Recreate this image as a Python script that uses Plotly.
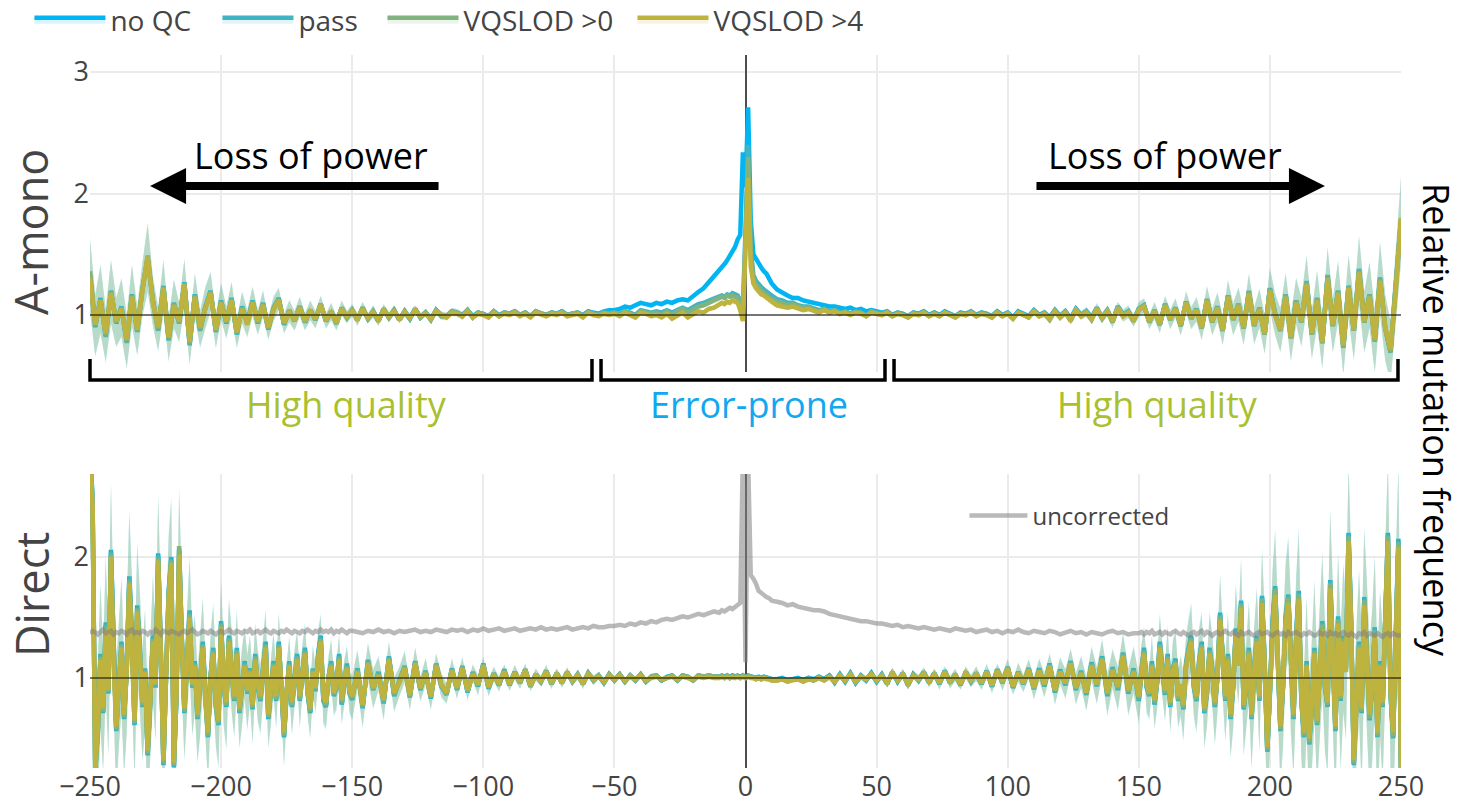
import plotly.graph_objects as go

# x positions (bp from the indel)
X_amono = list(range(-250, -11, 2)) + list(range(-10, 11)) + list(range(12, 251, 2))
X_direct = (list(range(-250, -149)) + list(range(-148, -11, 2)) + list(range(-10, 11))
            + list(range(12, 149, 2)) + list(range(150, 251)))

# ---------------- A-mono panel ----------------
amono_noqc = [
    1.32, 0.90, 1.14, 0.83, 1.20, 0.93, 1.07, 0.78, 1.17, 0.86,
    1.22, 1.46, 1.12, 0.88, 1.24, 0.80, 1.10, 0.93, 1.27, 0.76,
    1.17, 0.88, 1.07, 1.20, 0.86, 1.12, 0.93, 1.14, 0.84, 1.07,
    0.94, 1.12, 0.93, 1.10, 0.88, 1.06, 1.14, 0.92, 1.04, 0.95,
    1.07, 0.94, 1.04, 0.96, 1.09, 0.95, 1.03, 0.93, 1.06, 0.98,
    1.04, 0.96, 1.06, 0.97, 1.03, 0.95, 1.05, 0.98, 1.04, 0.96,
    1.03, 0.97, 1.05, 0.98, 1.02, 0.97, 1.04, 1.00, 0.99, 1.03,
    1.02, 1.00, 1.04, 0.99, 1.02, 1.01, 0.99, 1.03, 1.00, 1.02,
    1.01, 1.03, 1.00, 1.02, 0.99, 1.03, 1.01, 1.00, 1.02, 1.01,
    1.03, 1.00, 1.01, 1.02, 1.00, 1.03, 1.02, 1.01, 1.03, 1.04,
    1.04, 1.05, 1.07, 1.06, 1.08, 1.10, 1.09, 1.08, 1.10, 1.09,
    1.11, 1.10, 1.12, 1.13, 1.12, 1.16, 1.19, 1.22, 1.27, 1.31,
    1.36, 1.39, 1.42, 1.45, 1.49, 1.53, 1.56, 1.62, 1.66, 2.34,
    2.05, 2.71, 1.78, 1.50, 1.46, 1.42, 1.39, 1.36, 1.34, 1.30, 1.26,
    1.21, 1.18, 1.16, 1.14, 1.14, 1.12, 1.11, 1.10, 1.09, 1.08,
    1.07, 1.07, 1.06, 1.05, 1.06, 1.04, 1.05, 1.03, 1.04, 1.03,
    1.02, 1.03, 1.00, 1.02, 1.01, 0.99, 1.02, 1.01, 1.03, 1.00,
    1.02, 1.00, 1.03, 1.01, 0.99, 1.02, 1.01, 1.03, 1.00, 1.02,
    1.01, 0.99, 1.03, 1.00, 1.02, 0.98, 1.03, 1.01, 0.99, 1.04,
    1.00, 1.02, 0.98, 1.04, 0.99, 1.03, 0.97, 1.05, 1.00, 1.03,
    0.98, 1.06, 0.97, 1.04, 0.94, 1.07, 1.00, 1.03, 0.95, 1.05,
    1.08, 0.94, 1.04, 0.92, 1.09, 0.96, 1.06, 0.91, 1.11, 0.97,
    1.05, 0.89, 1.13, 0.94, 1.07, 0.87, 1.16, 0.96, 1.09, 0.89,
    1.19, 0.91, 1.06, 0.84, 1.22, 1.01, 0.87, 1.17, 0.81, 1.12,
    0.94, 1.27, 0.84, 1.14, 0.77, 1.32, 0.91, 1.20, 0.74, 1.24,
    0.87, 1.37, 0.94, 1.17, 0.79, 1.30, 0.89, 0.70, 1.22, 1.78,
]
amono_pass = [
    1.33, 0.91, 1.13, 0.82, 1.19, 0.94, 1.06, 0.77, 1.16, 0.87,
    1.21, 1.47, 1.11, 0.87, 1.23, 0.79, 1.09, 0.94, 1.26, 0.75,
    1.16, 0.87, 1.06, 1.19, 0.87, 1.11, 0.94, 1.13, 0.85, 1.06,
    0.93, 1.11, 0.94, 1.09, 0.89, 1.05, 1.13, 0.93, 1.03, 0.95,
    1.07, 0.94, 1.04, 0.96, 1.09, 0.95, 1.03, 0.93, 1.06, 0.98,
    1.04, 0.96, 1.06, 0.97, 1.03, 0.95, 1.05, 0.98, 1.04, 0.96,
    1.03, 0.97, 1.05, 0.98, 1.02, 0.96, 1.04, 0.99, 0.99, 1.03,
    1.02, 0.99, 1.04, 0.98, 1.02, 1.00, 0.99, 1.03, 0.99, 1.02,
    1.01, 1.03, 1.00, 1.02, 0.99, 1.03, 1.01, 1.00, 1.02, 1.01,
    1.03, 1.00, 1.01, 1.02, 0.99, 1.03, 1.01, 1.00, 1.02, 1.01,
    1.02, 1.01, 1.03, 1.02, 1.00, 1.04, 1.03, 1.02, 1.03, 1.02,
    1.04, 1.02, 1.04, 1.06, 1.04, 1.07, 1.09, 1.10, 1.12, 1.14,
    1.15, 1.16, 1.15, 1.17, 1.16, 1.18, 1.17, 1.16, 1.12, 1.05,
    1.70, 2.40, 1.55, 1.33, 1.28, 1.25, 1.23, 1.21, 1.19, 1.18, 1.16,
    1.13, 1.12, 1.10, 1.10, 1.08, 1.07, 1.07, 1.05, 1.04, 1.05,
    1.03, 1.04, 1.02, 1.03, 1.01, 1.03, 1.02, 1.00, 1.03, 1.02,
    1.01, 1.03, 1.00, 1.02, 1.01, 0.99, 1.02, 1.01, 1.03, 1.00,
    1.02, 1.00, 1.02, 1.01, 0.99, 1.02, 1.00, 1.03, 1.00, 1.02,
    1.01, 0.99, 1.03, 1.00, 1.02, 0.98, 1.02, 1.01, 0.99, 1.04,
    1.00, 1.02, 0.98, 1.04, 0.99, 1.03, 0.97, 1.05, 1.00, 1.03,
    0.98, 1.06, 0.98, 1.04, 0.95, 1.07, 1.00, 1.03, 0.96, 1.05,
    1.08, 0.95, 1.04, 0.92, 1.09, 0.97, 1.06, 0.91, 1.11, 0.98,
    1.05, 0.90, 1.13, 0.95, 1.07, 0.88, 1.16, 0.97, 1.09, 0.90,
    1.20, 0.91, 1.06, 0.84, 1.22, 1.01, 0.88, 1.17, 0.81, 1.12,
    0.94, 1.28, 0.84, 1.14, 0.77, 1.33, 0.91, 1.20, 0.73, 1.24,
    0.87, 1.38, 0.94, 1.17, 0.78, 1.31, 0.89, 0.69, 1.22, 1.79,
]
amono_vq0 = [
    1.36, 0.93, 1.12, 0.84, 1.19, 0.94, 1.06, 0.79, 1.16, 0.87,
    1.21, 1.49, 1.11, 0.89, 1.23, 0.81, 1.09, 0.94, 1.26, 0.77,
    1.16, 0.89, 1.06, 1.19, 0.87, 1.11, 0.94, 1.13, 0.85, 1.06,
    0.93, 1.11, 0.94, 1.09, 0.89, 1.05, 1.13, 0.93, 1.03, 0.95,
    1.07, 0.95, 1.04, 0.96, 1.09, 0.95, 1.03, 0.93, 1.06, 0.98,
    1.04, 0.96, 1.06, 0.97, 1.03, 0.95, 1.05, 0.98, 1.04, 0.96,
    1.03, 0.97, 1.05, 0.98, 1.02, 0.96, 1.04, 0.99, 0.99, 1.03,
    1.02, 0.99, 1.04, 0.98, 1.02, 1.00, 0.99, 1.03, 0.99, 1.02,
    1.01, 1.03, 1.00, 1.02, 0.99, 1.03, 1.01, 1.00, 1.02, 1.01,
    1.02, 1.00, 1.01, 1.02, 0.99, 1.02, 1.01, 1.00, 1.02, 1.01,
    1.02, 1.00, 1.03, 1.01, 0.99, 1.03, 1.02, 1.01, 1.02, 1.00,
    1.03, 1.00, 1.03, 1.05, 1.02, 1.05, 1.07, 1.08, 1.10, 1.12,
    1.13, 1.15, 1.14, 1.16, 1.15, 1.16, 1.15, 1.14, 1.09, 1.00,
    1.62, 2.30, 1.48, 1.30, 1.25, 1.22, 1.20, 1.18, 1.16, 1.15, 1.13,
    1.11, 1.10, 1.08, 1.09, 1.07, 1.06, 1.06, 1.04, 1.03, 1.05,
    1.02, 1.04, 1.01, 1.03, 1.01, 1.02, 1.02, 0.99, 1.03, 1.01,
    1.00, 1.02, 0.99, 1.01, 1.00, 0.98, 1.01, 1.00, 1.02, 0.99,
    1.01, 0.99, 1.02, 1.00, 0.98, 1.01, 1.00, 1.02, 0.99, 1.01,
    1.00, 0.98, 1.02, 0.99, 1.01, 0.97, 1.02, 1.00, 0.98, 1.03,
    0.99, 1.01, 0.96, 1.03, 0.98, 1.02, 0.95, 1.04, 0.99, 1.02,
    0.96, 1.05, 0.97, 1.03, 0.94, 1.06, 0.99, 1.02, 0.95, 1.04,
    1.07, 0.94, 1.03, 0.92, 1.08, 0.96, 1.05, 0.91, 1.10, 0.97,
    1.04, 0.89, 1.12, 0.94, 1.06, 0.87, 1.15, 0.96, 1.08, 0.89,
    1.18, 0.91, 1.05, 0.84, 1.21, 1.00, 0.87, 1.16, 0.81, 1.11,
    0.94, 1.26, 0.84, 1.13, 0.77, 1.31, 0.91, 1.19, 0.74, 1.23,
    0.87, 1.36, 0.94, 1.16, 0.79, 1.29, 0.89, 0.70, 1.21, 1.79,
]
amono_vq4 = [
    1.30, 0.92, 1.12, 0.85, 1.18, 0.95, 1.05, 0.80, 1.15, 0.88,
    1.20, 1.48, 1.10, 0.90, 1.22, 0.82, 1.08, 0.95, 1.25, 0.78,
    1.15, 0.90, 1.05, 1.18, 0.88, 1.10, 0.95, 1.12, 0.86, 1.05,
    0.92, 1.10, 0.95, 1.08, 0.90, 1.04, 1.12, 0.94, 1.02, 0.96,
    1.06, 0.95, 1.03, 0.97, 1.08, 0.96, 1.02, 0.94, 1.05, 0.99,
    1.03, 0.97, 1.05, 0.98, 1.02, 0.96, 1.04, 0.99, 1.03, 0.97,
    1.02, 0.98, 1.04, 0.99, 1.01, 0.97, 1.03, 1.00, 0.98, 1.02,
    1.01, 0.99, 1.03, 0.98, 1.01, 1.00, 0.98, 1.02, 0.99, 1.01,
    1.00, 1.02, 0.99, 1.01, 0.98, 1.02, 1.00, 0.99, 1.01, 1.00,
    1.02, 0.99, 1.00, 1.01, 0.98, 1.02, 1.00, 0.99, 1.01, 1.00,
    1.01, 0.99, 1.02, 1.00, 0.98, 1.02, 1.01, 0.99, 1.00, 0.98,
    1.01, 0.97, 1.00, 1.02, 0.98, 1.01, 1.03, 1.02, 1.05, 1.06,
    1.08, 1.10, 1.09, 1.11, 1.10, 1.12, 1.11, 1.10, 1.04, 0.95,
    1.55, 2.13, 1.40, 1.26, 1.22, 1.19, 1.17, 1.16, 1.14, 1.13, 1.11,
    1.08, 1.07, 1.06, 1.07, 1.05, 1.04, 1.05, 1.03, 1.02, 1.04,
    1.02, 1.03, 1.01, 1.02, 1.00, 1.02, 1.01, 0.99, 1.02, 1.01,
    1.00, 1.02, 0.99, 1.01, 1.00, 0.98, 1.01, 1.00, 1.02, 0.99,
    1.01, 0.99, 1.02, 1.00, 0.98, 1.01, 1.00, 1.02, 0.99, 1.01,
    1.00, 0.98, 1.02, 0.99, 1.01, 0.97, 1.02, 1.00, 0.98, 1.03,
    0.99, 1.01, 0.97, 1.03, 0.98, 1.02, 0.96, 1.04, 0.99, 1.02,
    0.97, 1.05, 0.98, 1.03, 0.95, 1.06, 0.99, 1.02, 0.96, 1.04,
    1.07, 0.95, 1.03, 0.93, 1.08, 0.97, 1.05, 0.92, 1.10, 0.98,
    1.04, 0.90, 1.12, 0.95, 1.06, 0.88, 1.15, 0.97, 1.08, 0.90,
    1.18, 0.92, 1.05, 0.85, 1.20, 1.00, 0.88, 1.15, 0.82, 1.10,
    0.95, 1.25, 0.85, 1.12, 0.78, 1.30, 0.92, 1.18, 0.75, 1.22,
    0.88, 1.35, 0.95, 1.15, 0.80, 1.28, 0.90, 0.72, 1.20, 1.80,
]
amono_err = [
    0.30, 0.25, 0.28, 0.22, 0.26, 0.20, 0.24, 0.22, 0.25, 0.20,
    0.22, 0.28, 0.20, 0.18, 0.22, 0.18, 0.20, 0.16, 0.20, 0.17,
    0.18, 0.15, 0.17, 0.16, 0.14, 0.15, 0.13, 0.14, 0.12, 0.13,
    0.11, 0.12, 0.10, 0.11, 0.09, 0.10, 0.09, 0.08, 0.09, 0.08,
    0.08, 0.07, 0.08, 0.07, 0.07, 0.06, 0.07, 0.06, 0.06, 0.05,
    0.05, 0.05, 0.05, 0.04, 0.05, 0.04, 0.04, 0.04, 0.04, 0.03,
    0.04, 0.03, 0.03, 0.03, 0.03, 0.03, 0.03, 0.03, 0.03, 0.03,
    0.03, 0.03, 0.02, 0.03, 0.02, 0.02, 0.02, 0.02, 0.02, 0.02,
    0.02, 0.02, 0.02, 0.02, 0.02, 0.02, 0.02, 0.02, 0.02, 0.02,
    0.02, 0.02, 0.02, 0.02, 0.02, 0.02, 0.02, 0.02, 0.02, 0.02,
    0.02, 0.02, 0.02, 0.02, 0.02, 0.02, 0.02, 0.02, 0.02, 0.02,
    0.02, 0.02, 0.02, 0.02, 0.02, 0.02, 0.02, 0.02, 0.02, 0.02,
    0.02, 0.02, 0.02, 0.02, 0.02, 0.02, 0.02, 0.02, 0.03, 0.04,
    0.06, 0.06, 0.04, 0.03, 0.02, 0.02, 0.02, 0.02, 0.02, 0.02, 0.02,
    0.02, 0.02, 0.02, 0.02, 0.02, 0.02, 0.02, 0.02, 0.02, 0.02,
    0.02, 0.02, 0.02, 0.02, 0.02, 0.02, 0.02, 0.02, 0.02, 0.02,
    0.02, 0.02, 0.02, 0.02, 0.02, 0.02, 0.02, 0.02, 0.02, 0.02,
    0.02, 0.02, 0.02, 0.02, 0.02, 0.02, 0.02, 0.02, 0.02, 0.02,
    0.02, 0.02, 0.02, 0.02, 0.02, 0.02, 0.02, 0.02, 0.02, 0.02,
    0.02, 0.03, 0.02, 0.03, 0.03, 0.03, 0.03, 0.03, 0.03, 0.04,
    0.03, 0.04, 0.04, 0.04, 0.05, 0.04, 0.05, 0.05, 0.05, 0.06,
    0.06, 0.06, 0.07, 0.07, 0.07, 0.08, 0.08, 0.08, 0.09, 0.09,
    0.10, 0.10, 0.11, 0.11, 0.12, 0.12, 0.13, 0.13, 0.14, 0.14,
    0.15, 0.15, 0.16, 0.16, 0.17, 0.17, 0.18, 0.18, 0.19, 0.19,
    0.20, 0.22, 0.20, 0.23, 0.21, 0.24, 0.22, 0.25, 0.23, 0.26,
    0.24, 0.28, 0.25, 0.27, 0.26, 0.30, 0.27, 0.25, 0.30, 0.35,
]

# ---------------- Direct panel ----------------
direct_noqc = [
    # -250 .. -150 (every bp)
    2.95, 2.46, 0.22, 0.56, 1.20, 0.71, 1.46, 0.87, 2.06, 1.14,
    0.56, 0.92, 1.30, 0.66, 1.08, 1.84, 1.35, 0.61, 1.60, 1.25,
    0.76, 1.08, 0.36, 0.81, 1.35, 0.92, 2.03, 1.25, 0.28, 1.02,
    1.72, 2.00, 0.26, 0.86, 2.07, 1.35, 0.71, 1.14, 1.56, 0.92,
    1.14, 0.66, 0.92, 1.30, 0.81, 0.51, 1.02, 1.25, 0.76, 0.61,
    1.47, 0.92, 0.76, 1.35, 1.08, 0.81, 1.25, 0.71, 0.92, 1.14,
    0.87, 1.08, 0.74, 1.20, 0.92, 0.81, 1.08, 1.30, 0.66, 0.87,
    1.14, 0.81, 1.30, 0.92, 0.51, 0.87, 1.14, 0.76, 1.01, 1.20,
    0.81, 1.08, 1.25, 0.87, 0.71, 1.08, 0.89, 1.20, 1.35, 0.81,
    0.76, 1.01, 1.14, 0.85, 0.92, 1.20, 0.78, 0.96, 1.12, 0.87,
    0.82,
    # -148 .. -12 (every 2 bp)
    1.08, 0.75, 1.15, 0.90, 1.05, 0.79, 1.18, 0.85, 0.98,
    1.10, 0.84, 1.14, 0.90, 1.06, 0.83, 1.12, 0.93, 0.86, 1.08,
    0.90, 1.10, 0.88, 1.05, 0.93, 1.12, 0.91, 1.04, 0.94, 1.07,
    0.94, 1.05, 0.96, 1.07, 0.93, 1.03, 0.97, 1.06, 0.95, 1.04,
    0.96, 1.05, 0.97, 1.03, 0.95, 1.04, 0.98, 1.02, 0.96, 1.03,
    0.98, 1.03, 0.97, 1.02, 0.98, 1.03, 0.97, 1.01, 1.02, 0.98,
    1.01, 1.02, 0.98, 1.02, 1.01, 0.98, 1.02, 1.01, 1.02, 1.01,
    # -10 .. 10
    1.01, 1.02, 1.01, 1.02, 1.01, 1.02, 1.01, 1.02, 1.01, 1.02,
    1.01, 1.02, 1.01, 1.01, 1.00, 1.01, 1.00, 1.01, 1.00, 1.00, 0.99,
    # 12 .. 148
    0.99, 1.00, 0.98, 0.99, 1.00, 0.98, 1.00, 0.99, 1.01, 0.99,
    1.02, 0.96, 1.03, 0.97, 1.04, 0.96, 1.02, 0.98, 1.04, 0.97,
    1.03, 0.95, 1.05, 0.97, 1.04, 0.94, 1.03, 0.98, 1.05, 0.96,
    1.04, 0.95, 1.06, 0.96, 1.03, 0.94, 1.05, 0.97, 1.04, 0.95,
    1.06, 0.93, 1.07, 0.96, 1.09, 0.92, 1.05, 0.95, 1.08, 0.91,
    1.08, 0.93, 1.12, 0.88, 1.07, 0.94, 1.14, 0.90, 1.06, 0.86,
    1.13, 0.93, 1.18, 0.85, 1.09, 0.90, 1.21, 0.87, 1.08,
    # 150 .. 250
    0.81, 1.08, 1.25, 0.92, 0.85, 1.14, 0.78, 0.96, 1.30, 1.08,
    0.86, 1.20, 0.76, 1.08, 1.16, 0.81, 0.92, 0.74, 1.12, 1.25,
    1.35, 0.92, 0.81, 1.14, 1.30, 0.71, 0.87, 1.25, 1.08, 0.76,
    1.01, 1.54, 1.14, 0.81, 1.20, 0.66, 0.92, 1.41, 1.14, 1.64,
    0.74, 0.92, 1.25, 0.66, 1.08, 1.35, 0.81, 1.68, 1.14, 0.39,
    0.87, 1.46, 1.76, 1.25, 0.56, 0.92, 1.51, 1.69, 1.08, 0.66,
    1.35, 1.72, 0.81, 0.51, 1.14, 0.45, 0.76, 1.25, 0.61, 1.08,
    1.47, 0.92, 0.76, 1.81, 1.25, 0.56, 1.51, 0.81, 1.35, 1.08,
    2.20, 1.46, 0.28, 0.87, 1.30, 0.71, 1.67, 1.20, 0.65, 0.92,
    1.42, 0.51, 1.14, 0.76, 1.51, 2.20, 0.87, 0.50, 1.35, 2.15,
    0.22,
]
direct_pass = [
    2.93, 2.44, 0.23, 0.57, 1.18, 0.72, 1.44, 0.88, 2.04, 1.12,
    0.57, 0.93, 1.28, 0.67, 1.07, 1.82, 1.33, 0.62, 1.58, 1.23,
    0.77, 1.07, 0.37, 0.82, 1.33, 0.93, 2.01, 1.23, 0.29, 1.01,
    1.70, 1.98, 0.27, 0.87, 2.05, 1.33, 0.72, 1.12, 1.54, 0.93,
    1.12, 0.67, 0.93, 1.28, 0.82, 0.52, 1.01, 1.23, 0.77, 0.62,
    1.45, 0.93, 0.77, 1.33, 1.07, 0.82, 1.23, 0.72, 0.93, 1.12,
    0.88, 1.07, 0.75, 1.18, 0.93, 0.82, 1.07, 1.28, 0.67, 0.88,
    1.12, 0.82, 1.28, 0.93, 0.52, 0.88, 1.12, 0.77, 1.01, 1.18,
    0.82, 1.07, 1.23, 0.88, 0.72, 1.07, 0.90, 1.18, 1.33, 0.82,
    0.77, 1.01, 1.12, 0.86, 0.93, 1.18, 0.79, 0.97, 1.10, 0.88,
    0.83,
    1.07, 0.76, 1.14, 0.91, 1.04, 0.80, 1.17, 0.86, 0.97,
    1.09, 0.85, 1.13, 0.91, 1.05, 0.84, 1.11, 0.94, 0.87, 1.07,
    0.91, 1.09, 0.89, 1.04, 0.94, 1.11, 0.92, 1.03, 0.95, 1.06,
    0.94, 1.05, 0.96, 1.07, 0.93, 1.03, 0.97, 1.06, 0.95, 1.04,
    0.96, 1.05, 0.97, 1.03, 0.95, 1.04, 0.98, 1.02, 0.96, 1.03,
    0.98, 1.03, 0.97, 1.02, 0.98, 1.03, 0.97, 1.01, 1.02, 0.98,
    1.00, 1.02, 0.98, 1.02, 1.01, 0.98, 1.02, 1.01, 1.02, 1.01,
    1.01, 1.01, 1.01, 1.02, 1.00, 1.02, 1.01, 1.01, 1.01, 1.02,
    1.00, 1.02, 1.01, 1.00, 1.00, 1.00, 0.99, 1.01, 1.00, 0.99, 0.99,
    0.99, 0.99, 0.98, 0.99, 0.99, 0.98, 1.00, 0.98, 1.01, 0.99,
    1.02, 0.97, 1.03, 0.97, 1.04, 0.96, 1.02, 0.98, 1.04, 0.97,
    1.03, 0.95, 1.05, 0.97, 1.04, 0.94, 1.03, 0.98, 1.05, 0.96,
    1.04, 0.95, 1.06, 0.96, 1.03, 0.94, 1.05, 0.97, 1.04, 0.95,
    1.06, 0.93, 1.07, 0.96, 1.09, 0.92, 1.05, 0.95, 1.08, 0.91,
    1.07, 0.94, 1.11, 0.89, 1.06, 0.95, 1.13, 0.91, 1.05, 0.87,
    1.12, 0.94, 1.17, 0.86, 1.08, 0.91, 1.20, 0.88, 1.07,
    0.82, 1.07, 1.23, 0.93, 0.86, 1.12, 0.79, 0.97, 1.28, 1.07,
    0.87, 1.18, 0.77, 1.07, 1.14, 0.82, 0.93, 0.75, 1.10, 1.23,
    1.33, 0.93, 0.82, 1.12, 1.28, 0.72, 0.88, 1.23, 1.07, 0.77,
    1.01, 1.52, 1.12, 0.82, 1.18, 0.67, 0.93, 1.39, 1.12, 1.62,
    0.75, 0.93, 1.23, 0.67, 1.07, 1.33, 0.82, 1.66, 1.12, 0.40,
    0.88, 1.44, 1.74, 1.23, 0.57, 0.93, 1.49, 1.67, 1.07, 0.67,
    1.33, 1.70, 0.82, 0.52, 1.12, 0.46, 0.77, 1.23, 0.62, 1.07,
    1.45, 0.93, 0.77, 1.79, 1.23, 0.57, 1.49, 0.82, 1.33, 1.07,
    2.18, 1.44, 0.29, 0.88, 1.28, 0.72, 1.65, 1.18, 0.66, 0.93,
    1.40, 0.52, 1.12, 0.77, 1.49, 2.18, 0.88, 0.51, 1.33, 2.13,
    0.23,
]
direct_vq0 = [
    2.92, 2.42, 0.24, 0.58, 1.17, 0.73, 1.42, 0.89, 2.02, 1.11,
    0.58, 0.94, 1.27, 0.68, 1.06, 1.80, 1.32, 0.63, 1.57, 1.22,
    0.78, 1.06, 0.38, 0.83, 1.32, 0.94, 1.99, 1.22, 0.30, 1.01,
    1.68, 1.97, 0.28, 0.88, 2.09, 1.32, 0.73, 1.11, 1.52, 0.94,
    1.11, 0.68, 0.94, 1.27, 0.83, 0.53, 1.01, 1.22, 0.78, 0.63,
    1.44, 0.94, 0.78, 1.32, 1.06, 0.83, 1.22, 0.73, 0.94, 1.11,
    0.89, 1.06, 0.76, 1.17, 0.94, 0.83, 1.06, 1.27, 0.68, 0.89,
    1.11, 0.83, 1.27, 0.94, 0.53, 0.89, 1.11, 0.78, 1.00, 1.17,
    0.83, 1.06, 1.22, 0.89, 0.73, 1.06, 0.91, 1.17, 1.32, 0.83,
    0.78, 1.00, 1.11, 0.87, 0.94, 1.17, 0.80, 0.97, 1.09, 0.89,
    0.84,
    1.06, 0.77, 1.13, 0.91, 1.03, 0.81, 1.16, 0.87, 0.97,
    1.09, 0.85, 1.13, 0.91, 1.05, 0.84, 1.11, 0.94, 0.87, 1.07,
    0.91, 1.09, 0.89, 1.04, 0.94, 1.11, 0.92, 1.03, 0.95, 1.06,
    0.95, 1.05, 0.96, 1.07, 0.93, 1.03, 0.97, 1.06, 0.95, 1.04,
    0.96, 1.05, 0.97, 1.03, 0.95, 1.04, 0.98, 1.02, 0.96, 1.03,
    0.98, 1.03, 0.97, 1.02, 0.98, 1.03, 0.97, 1.01, 1.02, 0.98,
    1.00, 1.02, 0.98, 1.02, 1.01, 0.98, 1.02, 1.01, 1.02, 1.01,
    1.01, 1.01, 1.00, 1.02, 1.00, 1.01, 1.01, 1.01, 1.00, 1.02,
    1.00, 1.01, 1.01, 1.00, 0.99, 1.00, 0.99, 1.00, 1.00, 0.99, 0.98,
    0.98, 0.99, 0.97, 0.99, 0.99, 0.97, 0.99, 0.98, 1.00, 0.98,
    1.01, 0.97, 1.02, 0.98, 1.03, 0.97, 1.01, 0.99, 1.03, 0.98,
    1.02, 0.96, 1.04, 0.98, 1.03, 0.95, 1.02, 0.99, 1.04, 0.97,
    1.03, 0.96, 1.05, 0.97, 1.02, 0.95, 1.04, 0.98, 1.03, 0.96,
    1.05, 0.94, 1.06, 0.97, 1.08, 0.93, 1.04, 0.96, 1.07, 0.92,
    1.06, 0.95, 1.10, 0.90, 1.05, 0.96, 1.12, 0.92, 1.04, 0.88,
    1.11, 0.94, 1.16, 0.87, 1.07, 0.92, 1.19, 0.89, 1.06,
    0.84, 1.06, 1.22, 0.94, 0.87, 1.11, 0.80, 0.97, 1.27, 1.06,
    0.88, 1.17, 0.78, 1.06, 1.13, 0.83, 0.94, 0.76, 1.09, 1.22,
    1.32, 0.94, 0.83, 1.11, 1.27, 0.73, 0.89, 1.22, 1.06, 0.78,
    1.00, 1.51, 1.11, 0.83, 1.17, 0.68, 0.94, 1.38, 1.11, 1.61,
    0.76, 0.94, 1.22, 0.68, 1.06, 1.32, 0.83, 1.65, 1.11, 0.41,
    0.89, 1.43, 1.73, 1.22, 0.58, 0.94, 1.48, 1.66, 1.06, 0.68,
    1.32, 1.69, 0.83, 0.53, 1.11, 0.47, 0.78, 1.22, 0.63, 1.06,
    1.44, 0.94, 0.78, 1.78, 1.22, 0.58, 1.48, 0.83, 1.32, 1.06,
    2.17, 1.43, 0.30, 0.89, 1.27, 0.73, 1.64, 1.17, 0.67, 0.94,
    1.39, 0.53, 1.11, 0.78, 1.48, 2.17, 0.89, 0.52, 1.32, 2.12,
    0.24,
]
direct_vq4 = [
    2.90, 2.40, 0.25, 0.60, 1.15, 0.75, 1.40, 0.90, 2.00, 1.10,
    0.60, 0.95, 1.25, 0.70, 1.05, 1.78, 1.30, 0.65, 1.55, 1.20,
    0.80, 1.05, 0.40, 0.85, 1.30, 0.95, 1.97, 1.20, 0.32, 1.00,
    1.66, 1.95, 0.30, 0.90, 2.02, 1.30, 0.75, 1.10, 1.50, 0.95,
    1.10, 0.70, 0.95, 1.25, 0.85, 0.55, 1.00, 1.20, 0.80, 0.65,
    1.42, 0.95, 0.80, 1.30, 1.05, 0.85, 1.20, 0.75, 0.95, 1.10,
    0.90, 1.05, 0.78, 1.15, 0.95, 0.85, 1.05, 1.25, 0.70, 0.90,
    1.10, 0.85, 1.25, 0.95, 0.55, 0.90, 1.10, 0.80, 1.00, 1.15,
    0.85, 1.05, 1.20, 0.90, 0.75, 1.05, 0.92, 1.15, 1.30, 0.85,
    0.80, 1.00, 1.10, 0.88, 0.95, 1.15, 0.82, 0.98, 1.08, 0.90,
    0.85,
    1.05, 0.78, 1.12, 0.92, 1.02, 0.82, 1.15, 0.88, 0.96,
    1.08, 0.86, 1.12, 0.92, 1.04, 0.85, 1.10, 0.95, 0.88, 1.06,
    0.92, 1.08, 0.90, 1.03, 0.95, 1.10, 0.93, 1.02, 0.96, 1.05,
    0.95, 1.04, 0.97, 1.06, 0.94, 1.02, 0.98, 1.05, 0.96, 1.03,
    0.97, 1.04, 0.98, 1.02, 0.96, 1.03, 0.99, 1.01, 0.97, 1.02,
    0.99, 1.02, 0.98, 1.01, 0.99, 1.02, 0.98, 1.00, 1.01, 0.99,
    1.00, 1.01, 0.99, 1.01, 1.00, 0.99, 1.01, 1.00, 1.01, 1.00,
    1.00, 1.01, 1.00, 1.01, 1.00, 1.01, 1.00, 1.01, 1.00, 1.01,
    1.00, 1.01, 1.00, 1.00, 0.99, 1.00, 0.99, 1.00, 0.99, 0.99, 0.98,
    0.98, 0.99, 0.97, 0.98, 0.99, 0.97, 0.99, 0.98, 1.00, 0.98,
    1.01, 0.97, 1.02, 0.98, 1.03, 0.97, 1.01, 0.99, 1.03, 0.98,
    1.02, 0.96, 1.04, 0.98, 1.03, 0.95, 1.02, 0.99, 1.04, 0.97,
    1.03, 0.96, 1.05, 0.97, 1.02, 0.95, 1.04, 0.98, 1.03, 0.96,
    1.05, 0.94, 1.06, 0.97, 1.08, 0.93, 1.04, 0.96, 1.07, 0.92,
    1.06, 0.95, 1.10, 0.90, 1.05, 0.96, 1.12, 0.92, 1.04, 0.88,
    1.10, 0.95, 1.15, 0.88, 1.06, 0.93, 1.18, 0.90, 1.05,
    0.85, 1.05, 1.20, 0.95, 0.88, 1.10, 0.82, 0.98, 1.25, 1.05,
    0.90, 1.15, 0.80, 1.05, 1.12, 0.85, 0.95, 0.78, 1.08, 1.20,
    1.30, 0.95, 0.85, 1.10, 1.25, 0.75, 0.90, 1.20, 1.05, 0.80,
    1.00, 1.48, 1.10, 0.85, 1.15, 0.70, 0.95, 1.35, 1.10, 1.58,
    0.78, 0.95, 1.20, 0.70, 1.05, 1.30, 0.85, 1.62, 1.10, 0.43,
    0.90, 1.40, 1.69, 1.20, 0.60, 0.95, 1.45, 1.62, 1.05, 0.70,
    1.30, 1.65, 0.85, 0.55, 1.10, 0.50, 0.80, 1.20, 0.65, 1.05,
    1.40, 0.95, 0.80, 1.74, 1.20, 0.60, 1.45, 0.85, 1.30, 1.05,
    2.13, 1.40, 0.32, 0.90, 1.25, 0.75, 1.60, 1.15, 0.70, 0.95,
    1.35, 0.55, 1.10, 0.80, 1.45, 2.13, 0.90, 0.55, 1.30, 2.08,
    0.25,
]
direct_err = [
    0.62, 0.58, 0.52, 0.55, 0.60, 0.50, 0.56, 0.52, 0.58, 0.50,
    0.54, 0.50, 0.55, 0.48, 0.52, 0.56, 0.50, 0.47, 0.53, 0.49,
    0.46, 0.50, 0.44, 0.48, 0.52, 0.45, 0.50, 0.47, 0.43, 0.46,
    0.48, 0.50, 0.42, 0.45, 0.50, 0.44, 0.40, 0.43, 0.46, 0.41,
    0.40, 0.37, 0.41, 0.38, 0.35, 0.39, 0.36, 0.38, 0.34, 0.36,
    0.35, 0.33, 0.36, 0.32, 0.34, 0.31, 0.33, 0.30, 0.32, 0.29,
    0.31, 0.28, 0.30, 0.27, 0.29, 0.28, 0.26, 0.28, 0.25, 0.27,
    0.26, 0.24, 0.26, 0.23, 0.25, 0.24, 0.22, 0.24, 0.23, 0.21,
    0.23, 0.21, 0.22, 0.20, 0.22, 0.20, 0.19, 0.21, 0.19, 0.20,
    0.19, 0.18, 0.20, 0.17, 0.19, 0.18, 0.17, 0.18, 0.16, 0.17,
    0.18,
    0.16, 0.17, 0.15, 0.16, 0.14, 0.15, 0.13, 0.14, 0.12,
    0.13, 0.11, 0.12, 0.10, 0.11, 0.10, 0.09, 0.10, 0.08, 0.09,
    0.08, 0.08, 0.07, 0.07, 0.08, 0.06, 0.07, 0.06, 0.06, 0.05,
    0.05, 0.06, 0.05, 0.05, 0.04, 0.05, 0.04, 0.05, 0.04, 0.04,
    0.04, 0.04, 0.03, 0.04, 0.04, 0.03, 0.04, 0.03, 0.03, 0.03,
    0.03, 0.03, 0.03, 0.02, 0.03, 0.03, 0.02, 0.03, 0.02, 0.02,
    0.02, 0.02, 0.02, 0.02, 0.02, 0.02, 0.02, 0.02, 0.02, 0.02,
    0.02, 0.02, 0.02, 0.02, 0.02, 0.02, 0.02, 0.02, 0.02, 0.02,
    0.02, 0.02, 0.02, 0.02, 0.02, 0.02, 0.02, 0.02, 0.02, 0.02, 0.02,
    0.02, 0.02, 0.02, 0.02, 0.02, 0.02, 0.02, 0.02, 0.02, 0.02,
    0.02, 0.03, 0.02, 0.03, 0.03, 0.02, 0.03, 0.03, 0.03, 0.03,
    0.03, 0.03, 0.04, 0.03, 0.04, 0.04, 0.03, 0.04, 0.04, 0.04,
    0.04, 0.05, 0.04, 0.05, 0.05, 0.04, 0.05, 0.05, 0.06, 0.05,
    0.06, 0.06, 0.05, 0.07, 0.07, 0.06, 0.08, 0.07, 0.08, 0.09,
    0.09, 0.10, 0.09, 0.11, 0.11, 0.12, 0.11, 0.13, 0.13, 0.14,
    0.14, 0.15, 0.15, 0.17, 0.16, 0.18, 0.17, 0.19, 0.19,
    0.20, 0.21, 0.19, 0.22, 0.20, 0.23, 0.21, 0.22, 0.24, 0.22,
    0.23, 0.25, 0.22, 0.24, 0.26, 0.23, 0.25, 0.27, 0.24, 0.26,
    0.28, 0.25, 0.27, 0.29, 0.26, 0.30, 0.28, 0.31, 0.29, 0.32,
    0.30, 0.33, 0.31, 0.34, 0.36, 0.33, 0.35, 0.38, 0.34, 0.37,
    0.39, 0.36, 0.40, 0.42, 0.38, 0.41, 0.44, 0.40, 0.43, 0.46,
    0.42, 0.45, 0.48, 0.44, 0.47, 0.50, 0.46, 0.49, 0.52, 0.48,
    0.50, 0.53, 0.49, 0.52, 0.55, 0.51, 0.54, 0.57, 0.53, 0.55,
    0.58, 0.54, 0.57, 0.60, 0.56, 0.59, 0.55, 0.58, 0.61, 0.57,
    0.60, 0.57, 0.62, 0.58, 0.61, 0.64, 0.59, 0.62, 0.60, 0.63,
    0.61, 0.65, 0.60, 0.63, 0.66, 0.62, 0.64, 0.61, 0.65, 0.63,
    0.66,
]
direct_uncorrected = [
    1.37, 1.39, 1.38, 1.36, 1.38, 1.40, 1.37, 1.38, 1.39, 1.36,
    1.38, 1.37, 1.39, 1.38, 1.36, 1.39, 1.40, 1.37, 1.38, 1.37,
    1.39, 1.38, 1.36, 1.38, 1.37, 1.40, 1.38, 1.36, 1.39, 1.38,
    1.37, 1.39, 1.38, 1.37, 1.36, 1.38, 1.39, 1.37, 1.38, 1.40,
    1.38, 1.36, 1.37, 1.39, 1.38, 1.37, 1.39, 1.38, 1.36, 1.38,
    1.39, 1.37, 1.38, 1.40, 1.38, 1.37, 1.39, 1.38, 1.37, 1.39,
    1.38, 1.40, 1.37, 1.38, 1.39, 1.37, 1.38, 1.40, 1.38, 1.37,
    1.39, 1.38, 1.37, 1.39, 1.38, 1.40, 1.38, 1.37, 1.39, 1.38,
    1.37, 1.39, 1.38, 1.40, 1.38, 1.37, 1.39, 1.38, 1.40, 1.38,
    1.39, 1.38, 1.40, 1.37, 1.39, 1.38, 1.40, 1.39, 1.37, 1.39,
    1.39,
    1.38, 1.37, 1.39, 1.38, 1.40, 1.38, 1.39, 1.37, 1.39,
    1.38, 1.39, 1.40, 1.38, 1.39, 1.38, 1.40, 1.39, 1.38, 1.40,
    1.39, 1.40, 1.38, 1.40, 1.39, 1.41, 1.39, 1.40, 1.41, 1.39,
    1.40, 1.41, 1.39, 1.40, 1.41, 1.40, 1.42, 1.40, 1.41, 1.40,
    1.41, 1.42, 1.40, 1.41, 1.42, 1.41, 1.43, 1.42, 1.42, 1.43,
    1.43, 1.44, 1.43, 1.45, 1.44, 1.46, 1.45, 1.47, 1.46, 1.48,
    1.49, 1.48, 1.50, 1.51, 1.50, 1.52, 1.53, 1.52, 1.54, 1.55,
    1.54, 1.56, 1.55, 1.57, 1.58, 1.57, 1.59, 1.60, 1.62, 2.85,
    1.13, 2.80, 1.85, 1.82, 1.78, 1.72, 1.70, 1.69, 1.67, 1.66, 1.64,
    1.63, 1.62, 1.60, 1.61, 1.59, 1.58, 1.57, 1.56, 1.56, 1.55,
    1.53, 1.52, 1.51, 1.50, 1.49, 1.48, 1.47, 1.47, 1.46, 1.45,
    1.45, 1.44, 1.43, 1.44, 1.42, 1.43, 1.42, 1.41, 1.42, 1.41,
    1.40, 1.41, 1.40, 1.39, 1.41, 1.40, 1.39, 1.40, 1.38, 1.39,
    1.40, 1.38, 1.39, 1.37, 1.39, 1.38, 1.40, 1.38, 1.37, 1.39,
    1.38, 1.37, 1.39, 1.38, 1.36, 1.38, 1.39, 1.37, 1.38, 1.36,
    1.38, 1.37, 1.36, 1.38, 1.39, 1.37, 1.38, 1.36, 1.37,
    1.37, 1.38, 1.36, 1.38, 1.37, 1.39, 1.36, 1.37, 1.38, 1.36,
    1.38, 1.37, 1.36, 1.38, 1.39, 1.37, 1.36, 1.38, 1.37, 1.35,
    1.37, 1.38, 1.36, 1.37, 1.39, 1.36, 1.38, 1.37, 1.35, 1.37,
    1.38, 1.36, 1.37, 1.39, 1.37, 1.36, 1.38, 1.37, 1.35, 1.38,
    1.36, 1.37, 1.38, 1.36, 1.35, 1.37, 1.38, 1.36, 1.37, 1.38,
    1.36, 1.35, 1.37, 1.38, 1.36, 1.37, 1.35, 1.38, 1.36, 1.37,
    1.38, 1.36, 1.35, 1.37, 1.36, 1.38, 1.37, 1.35, 1.36, 1.38,
    1.36, 1.37, 1.35, 1.38, 1.36, 1.37, 1.35, 1.36, 1.38, 1.36,
    1.35, 1.37, 1.36, 1.34, 1.37, 1.36, 1.38, 1.35, 1.37, 1.36,
    1.35, 1.37, 1.36, 1.34, 1.36, 1.37, 1.35, 1.37, 1.36, 1.35,
    1.36,
]

series_names = ["no QC", "pass", "VQSLOD >0", "VQSLOD >4"]
line_colors = ["#00b5f1", "#41b4c3", "#80b380", "#bfb33f"]
fill_colors = ["rgba(0,181,241,0.15)", "rgba(65,180,195,0.15)",
               "rgba(128,179,128,0.15)", "rgba(191,179,63,0.15)"]
legend_ids = ["legend", "legend3", "legend4", "legend5"]
legend_x = [-0.0462, 0.0972, 0.2231, 0.4138]
amono_series = [amono_noqc, amono_pass, amono_vq0, amono_vq4]
direct_series = [direct_noqc, direct_pass, direct_vq0, direct_vq4]

for arr in amono_series + [amono_err]:
    if len(arr) != len(X_amono):
        raise SystemExit("A-mono length mismatch: %d vs %d" % (len(arr), len(X_amono)))
for arr in direct_series + [direct_err, direct_uncorrected]:
    if len(arr) != len(X_direct):
        raise SystemExit("Direct length mismatch: %d vs %d" % (len(arr), len(X_direct)))

fig = go.Figure()


def add_series(xs, vals, err, name, color, fill, xa, ya, showlegend, legend_id):
    upper = [v + e for v, e in zip(vals, err)]
    lower = [v - e for v, e in zip(vals, err)]
    fig.add_trace(go.Scatter(x=xs, y=upper, mode="lines", line=dict(width=0, color=color),
                             xaxis=xa, yaxis=ya, showlegend=False, hoverinfo="skip",
                             legendgroup=name, legend=legend_id))
    fig.add_trace(go.Scatter(x=xs, y=vals, mode="lines", line=dict(width=4.5, color=color),
                             fill="tonexty", fillcolor=fill, name=name, legendgroup=name,
                             showlegend=showlegend, xaxis=xa, yaxis=ya, legend=legend_id))
    fig.add_trace(go.Scatter(x=xs, y=lower, mode="lines", line=dict(width=0, color=color),
                             fill="tonexty", fillcolor=fill, xaxis=xa, yaxis=ya,
                             showlegend=False, hoverinfo="skip", legendgroup=name,
                             legend=legend_id))


for vals, name, c, f, lid in zip(amono_series, series_names, line_colors, fill_colors, legend_ids):
    add_series(X_amono, vals, amono_err, name, c, f, "x", "y", True, lid)
for vals, name, c, f, lid in zip(direct_series, series_names, line_colors, fill_colors, legend_ids):
    add_series(X_direct, vals, direct_err, name, c, f, "x2", "y2", False, lid)

fig.add_trace(go.Scatter(x=X_direct, y=direct_uncorrected, mode="lines",
                         line=dict(width=4.5, color="rgb(128,128,128)"), opacity=0.55,
                         name="uncorrected", legend="legend2", xaxis="x2", yaxis="y2"))

FONT = "Open Sans, verdana, arial, sans-serif"
xticks = [-250, -200, -150, -100, -50, 0, 50, 100, 150, 200, 250]
axis_common = dict(showgrid=True, gridcolor="#ebebeb", gridwidth=2, ticks="",
                   showline=False, tickfont=dict(family=FONT, size=27, color="#444"))

top_legend = dict(orientation="h", xanchor="left", y=1.084, yanchor="top",
                  font=dict(family=FONT, size=28, color="#444"), itemwidth=71,
                  bgcolor="rgba(0,0,0,0)")

fig.update_layout(
    width=1468, height=806,
    paper_bgcolor="white", plot_bgcolor="white",
    font=dict(family=FONT, color="#444"),
    margin=dict(l=90, r=67, t=55, b=38, autoexpand=False),
    xaxis=dict(domain=[0, 1], anchor="y", range=[-250, 250], tickvals=xticks,
               showticklabels=False, zeroline=True, zerolinecolor="#4d4d4d",
               zerolinewidth=2, **axis_common),
    xaxis2=dict(domain=[0, 1], anchor="y2", range=[-250, 250], tickvals=xticks,
                showticklabels=True, zeroline=True, zerolinecolor="#4d4d4d",
                zerolinewidth=2, matches="x", **axis_common),
    yaxis=dict(domain=[0.5554, 1], anchor="x", range=[0.531, 3.14], tickvals=[1, 2, 3],
               zeroline=False, **axis_common),
    yaxis2=dict(domain=[0, 0.4123], anchor="x2", range=[0.256, 2.686], tickvals=[1, 2],
                zeroline=False, **axis_common),
    legend=dict(x=legend_x[0], **top_legend),
    legend3=dict(x=legend_x[1], **top_legend),
    legend4=dict(x=legend_x[2], **top_legend),
    legend5=dict(x=legend_x[3], **top_legend),
    legend2=dict(x=0.667, xanchor="left", y=0.385, yanchor="top",
                 font=dict(family=FONT, size=24, color="#444"), itemwidth=58,
                 bgcolor="rgba(0,0,0,0)"),
    showlegend=True,
)

shapes = [
    dict(type="line", xref="x domain", yref="y", x0=0, x1=1, y0=1, y1=1,
         line=dict(color="black", width=1.2), layer="above"),
    dict(type="line", xref="x2 domain", yref="y2", x0=0, x1=1, y0=1, y1=1,
         line=dict(color="black", width=1.2), layer="above"),
]
bracket_spans = [(0.0, 0.3829), (0.3898, 0.6064), (0.6133, 0.9977)]
for a, b in bracket_spans:
    shapes.append(dict(type="path", xref="paper", yref="paper",
                       path=f"M {a},0.5736 L {a},0.5442 L {b},0.5442 L {b},0.5736",
                       line=dict(color="black", width=3.5)))
fig.update_layout(shapes=shapes)

mid = dict(xanchor="center", yanchor="middle", showarrow=False)
big = dict(family=FONT, size=36, color="black")
ann = [
    dict(text="Loss of power", xref="paper", yref="paper", x=0.1686, y=0.8597, font=big, **mid),
    dict(text="Loss of power", xref="paper", yref="paper", x=0.8200, y=0.8597, font=big, **mid),
    dict(text="", xref="paper", yref="paper", x=0.0458, y=0.8163, ax=290, ay=0,
         showarrow=True, arrowhead=2, arrowwidth=8, arrowsize=0.9, arrowcolor="black"),
    dict(text="", xref="paper", yref="paper", x=0.9420, y=0.8163, ax=-290, ay=0,
         showarrow=True, arrowhead=2, arrowwidth=8, arrowsize=0.9, arrowcolor="black"),
    dict(text="High quality", xref="paper", yref="paper", x=0.1953, y=0.5105,
         font=dict(family=FONT, size=36, color="#a9c02f"), **mid),
    dict(text="Error-prone", xref="paper", yref="paper", x=0.5027, y=0.5105,
         font=dict(family=FONT, size=36, color="#12a8f0"), **mid),
    dict(text="High quality", xref="paper", yref="paper", x=0.8139, y=0.5105,
         font=dict(family=FONT, size=36, color="#a9c02f"), **mid),
    dict(text="A-mono", xref="paper", yref="paper", x=-0.0450, y=0.7518, textangle=-90,
         font=dict(family=FONT, size=45, color="#444"), **mid),
    dict(text="Direct", xref="paper", yref="paper", x=-0.0450, y=0.2426, textangle=-90,
         font=dict(family=FONT, size=45, color="#444"), **mid),
    dict(text="Relative mutation frequency", xref="paper", yref="paper", x=1.0267, y=0.4881,
         textangle=90, font=dict(family=FONT, size=36, color="black"), **mid),
]
fig.update_layout(annotations=ann)

fig.write_html("out.html", config={"displayModeBar": False},
               post_script="document.body.style.margin='0px';")
